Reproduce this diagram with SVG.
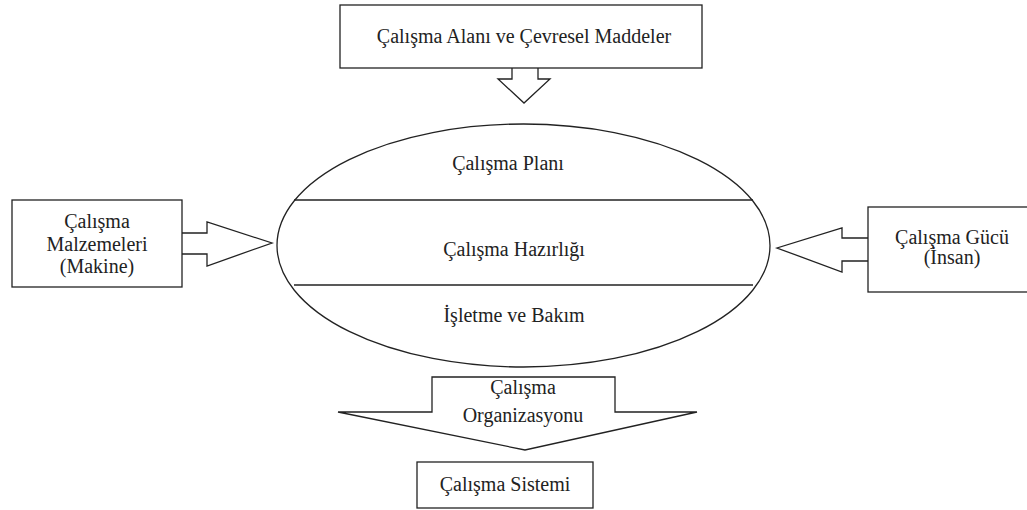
<svg xmlns="http://www.w3.org/2000/svg" width="1027" height="510" viewBox="0 0 1027 510">
<style>
.s{fill:#fff;stroke:#222;stroke-width:1.3}
.l{fill:none;stroke:#222;stroke-width:1.3}
</style>
<rect width="1027" height="510" fill="#fff"/>
<g id="connectors">
<path class="s" d="M512,68 V79 H498 L524,103 L550,79 H538 V68"/>
<path class="s" d="M182,233 H207 V222 L272,243 L207,266 V254 H182"/>
<path class="s" d="M868,238 H842 V228 L777,248 L842,272 V261 H868"/>
<path class="s" d="M432,377 H615 V412 H697 L525,450 L338,412 H432 Z"/>
</g>
<g font-family="Liberation Serif" font-size="20" fill="#222" text-anchor="middle">
<g id="top-box">
<rect class="s" x="340" y="5" width="362" height="63"/>
<text x="524" y="43">Çalışma Alanı ve Çevresel Maddeler</text>
</g>
<g id="center">
<ellipse class="s" cx="523.5" cy="245.5" rx="246.5" ry="121.5"/>
<line class="l" x1="294" y1="200" x2="753" y2="200"/>
<line class="l" x1="294" y1="285" x2="753" y2="285"/>
<text x="508" y="170">Çalışma Planı</text>
<text x="514" y="256">Çalışma Hazırlığı</text>
<text x="514" y="322">İşletme ve Bakım</text>
</g>
<g id="left-box">
<rect class="s" x="12" y="200" width="170" height="87"/>
<text x="97" y="228">Çalışma</text>
<text x="97" y="251">Malzemeleri</text>
<text x="97" y="273">(Makine)</text>
</g>
<g id="right-box">
<rect class="s" x="868" y="207" width="170" height="85"/>
<text x="952" y="244">Çalışma Gücü</text>
<text x="952" y="264">(İnsan)</text>
</g>
<g id="bottom-arrow-label">
<text x="523" y="394">Çalışma</text>
<text x="523" y="422">Organizasyonu</text>
</g>
<g id="bottom-box">
<rect class="s" x="417" y="462" width="176" height="46"/>
<text x="505" y="491">Çalışma Sistemi</text>
</g>
</g>
</svg>
